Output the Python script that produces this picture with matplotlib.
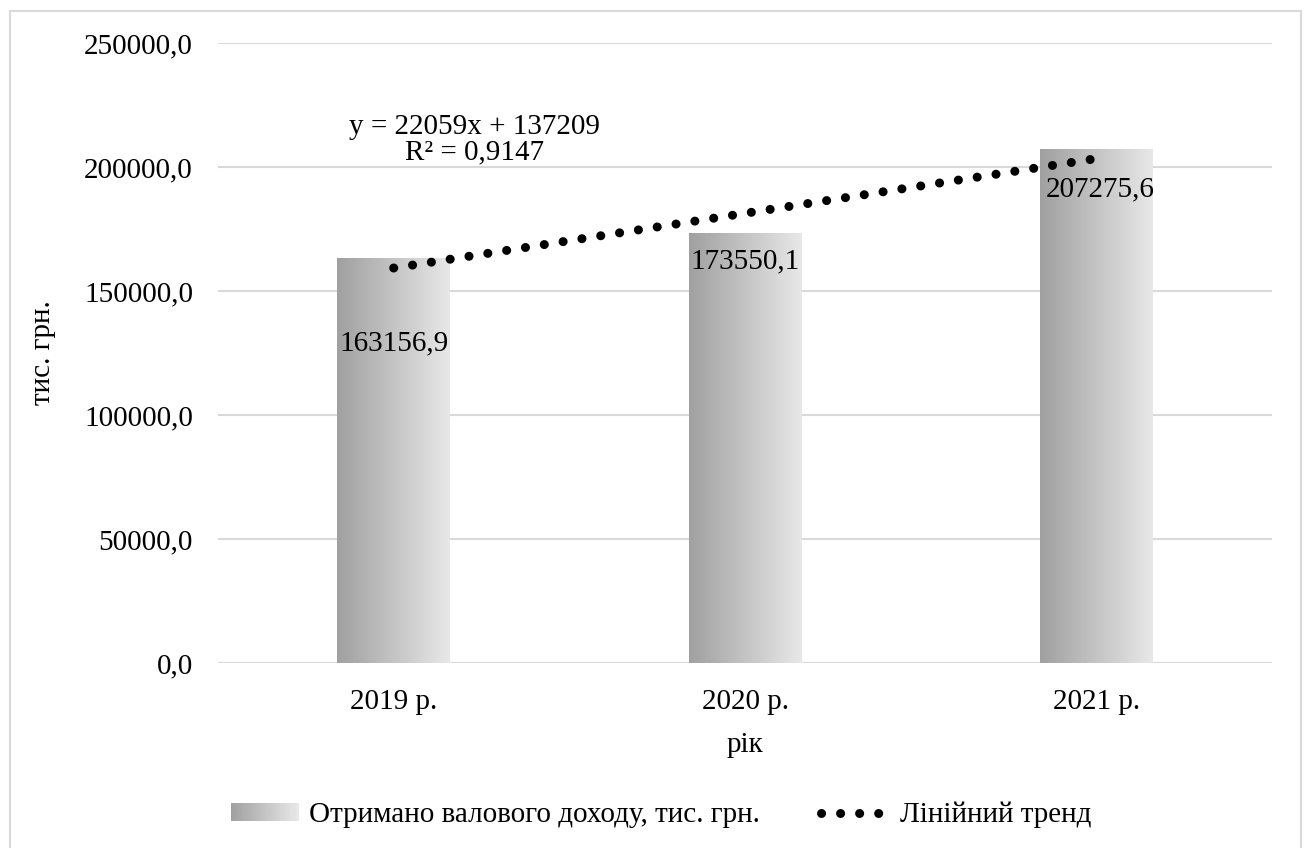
import numpy as np
import matplotlib.pyplot as plt
from matplotlib.patches import Rectangle
from matplotlib.lines import Line2D
from matplotlib.legend_handler import HandlerBase
from matplotlib.colors import LinearSegmentedColormap

plt.rcParams['font.family'] = ['Liberation Serif', 'DejaVu Serif']

# data
years = ["2019 р.", "2020 р.", "2021 р."]
income = [163156.9, 173550.1, 207275.6]
label_text = ["163156,9", "173550,1", "207275,6"]
label_y = [129000, 162000, 191000]     # where the labels sit
label_dx = [0.0, 0.0, 0.01]
slope, intercept = 22059, 137209
yticks = [0, 50000, 100000, 150000, 200000, 250000]

FS = 21
grad = LinearSegmentedColormap.from_list("g", ["#a0a0a0", "#e8e8e8"])
grad_img = np.linspace(0, 1, 256).reshape(1, -1)

fig = plt.figure(figsize=(13.05, 8.48), dpi=100)
ax = fig.add_axes([218 / 1305, 1 - 663 / 848, (1272 - 218) / 1305, 620 / 848])

x = np.arange(len(years))
bars = ax.bar(x, income, width=0.32, color="none", edgecolor="none", zorder=2)
for b in bars:
    im = ax.imshow(grad_img, cmap=grad, aspect="auto", zorder=2,
                   extent=[b.get_x(), b.get_x() + b.get_width(), 0, b.get_height()])
    im.set_clip_path(b)

# linear trend (x = 1..3 in Excel terms)
tx = x + 1
trend = slope * tx + intercept
dots = (0, (0.01, 2.1))
ax.plot(x, trend, color="black", lw=6.5, linestyle=dots,
        dash_capstyle="round", zorder=4)

for i in range(len(x)):
    ax.text(x[i] + label_dx[i], label_y[i], label_text[i], ha="center", va="center",
            fontsize=FS, zorder=5)

ax.text(0.23, 211000, "y = 22059x + 137209\nR² = 0,9147", ha="center", va="center",
        fontsize=FS, linespacing=0.98, zorder=5)

ax.set_xlim(-0.5, 2.5)
ax.set_ylim(0, 250000)
ax.set_yticks(yticks)
ax.set_yticklabels([f"{v:.1f}".replace(".", ",") for v in yticks])
ax.set_xticks(x)
ax.set_xticklabels(years)
ax.tick_params(length=0, labelsize=FS, pad=18)
ax.tick_params(axis="x", pad=19)
ax.yaxis.grid(True, color="#d9d9d9", lw=1.5)
ax.set_axisbelow(True)
for s in ["top", "right", "left", "bottom"]:
    ax.spines[s].set_visible(False)
ax.axhline(0, color="#d9d9d9", lw=1.5, zorder=1)

ax.set_ylabel("тис. грн.", fontsize=FS, labelpad=20)
ax.set_xlabel("рік", fontsize=FS, labelpad=12)


class GradientHandler(HandlerBase):
    def create_artists(self, legend, orig_handle, xdescent, ydescent, width, height,
                       fontsize, trans):
        n = 40
        arts = []
        for k in range(n):
            r = Rectangle((-xdescent + width * k / n, -ydescent), width / n + 0.3, height,
                          facecolor=grad(k / (n - 1)), edgecolor="none", transform=trans)
            arts.append(r)
        return arts


bar_handle = Rectangle((0, 0), 1, 1)
trend_handle = Line2D([], [], color="black", lw=6.5, linestyle=dots,
                      dash_capstyle="round")
fig.legend([bar_handle, trend_handle],
           ["Отримано валового доходу, тис. грн.", "Лінійний тренд"],
           handler_map={Rectangle: GradientHandler()},
           loc="center", bbox_to_anchor=(661 / 1305, 1 - 815 / 848), ncol=2, frameon=False,
           fontsize=FS, handlelength=2.35, handleheight=0.55, columnspacing=2.1,
           handletextpad=0.35)

# chart border
fig.patches.append(Rectangle((9.5 / 1305, -0.02), (1301 - 9.5) / 1305, 1.02 - 11 / 848,
                             transform=fig.transFigure, fill=False,
                             edgecolor="#d9d9d9", lw=1.5))

fig.savefig("out.png", dpi=100)
